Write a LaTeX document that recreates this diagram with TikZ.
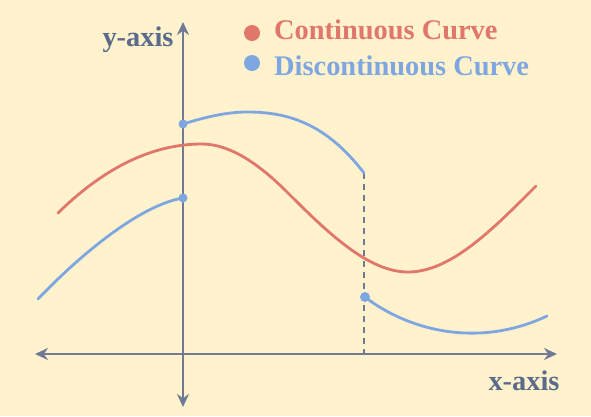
\documentclass[tikz,border=0pt]{standalone}
\usepackage{fontspec}
\setmainfont{Liberation Serif}
\usetikzlibrary{arrows.meta}
\definecolor{bgc}{HTML}{FFF2CC}
\definecolor{redc}{HTML}{E0776A}
\definecolor{bluec}{HTML}{7EA7E2}
\definecolor{axisc}{HTML}{707A95}
\definecolor{labc}{HTML}{5B6B8C}
\tikzset{
  axisline/.style={draw=axisc, line width=2.8pt, -{Stealth[length=13pt,width=12pt]}},
  curvered/.style={draw=redc, line width=2.8pt, line cap=round},
  curveblue/.style={draw=bluec, line width=2.8pt, line cap=round},
  dotblue/.style={fill=bluec},
  axislabel/.style={text=labc, font=\fontsize{28.4}{31}\selectfont\bfseries, inner sep=0pt},
  legendtext/.style={font=\fontsize{28.4}{31}\selectfont\bfseries, inner sep=0pt, anchor=west}
}
\begin{document}
\begin{tikzpicture}[x=1pt,y=-1pt]
\fill[bgc] (0,0) rectangle (591,416);
\useasboundingbox (0,0) rectangle (591,416);
% axes
\coordinate (o) at (183,354);
\coordinate (xl) at (35,354);
\coordinate (xr) at (557,354);
\coordinate (yt) at (183,22);
\coordinate (yb) at (183,407);
\draw[axisline] (o) -- (xr);
\draw[axisline] (o) -- (xl);
\draw[axisline] (o) -- (yt);
\draw[axisline] (o) -- (yb);
% dashed jump line
\coordinate (jt) at (364,173);
\coordinate (jb) at (364,354);
\draw[draw=axisc, line width=1.6pt, dash pattern=on 6pt off 5pt] (jt) -- (jb);
% continuous curve
\coordinate (r0) at (58,213);
\coordinate (r1) at (202,144);
\coordinate (r2) at (287,192);
\coordinate (r3) at (408,272);
\coordinate (r4) at (536,186);
\draw[curvered] (r0) .. controls (106,166) and (154,144) .. (r1)
  .. controls (230,144) and (259,164) .. (r2)
  .. controls (327,232) and (368,272) .. (r3)
  .. controls (451,272) and (493,229) .. (r4);
% discontinuous curve
\coordinate (d1) at (183,124);
\coordinate (d2) at (183,198);
\coordinate (d3) at (365,297);
\coordinate (bt) at (247,112);
\coordinate (b0) at (38,299);
\coordinate (b4) at (547,316);
\draw[curveblue] (b0) .. controls (80,255) and (140,205) .. (d2);
\draw[curveblue] (d1) .. controls (204,117.5) and (226,112) .. (bt)
  .. controls (286,112) and (325,122) .. (jt);
\draw[curveblue] (d3) .. controls (405,328) and (475,350) .. (b4);
\fill[dotblue] (d1) circle (4.5pt);
\fill[dotblue] (d2) circle (4.5pt);
\fill[dotblue] (d3) circle (5pt);
% labels
\node[axislabel] (ylab) at (138,40) {y-axis};
\node[axislabel] (xlab) at (524,381) {x-axis};
% legend
\fill[redc] (252,33) circle (8pt);
\fill[bluec] (252,63) circle (8pt);
\node[legendtext, text=redc] (lc) at (274,30) {Continuous Curve};
\node[legendtext, text=bluec] (ld) at (274,66) {Discontinuous Curve};
\end{tikzpicture}
\end{document}
